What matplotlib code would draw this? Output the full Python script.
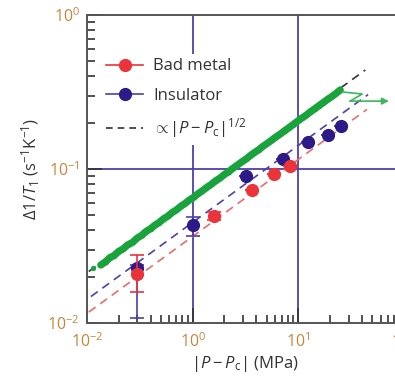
import numpy as np
import matplotlib
matplotlib.use('Agg')
import matplotlib.pyplot as plt
from matplotlib.lines import Line2D

plt.rcParams['font.family'] = ['Open Sans', 'DejaVu Sans']
plt.rcParams['mathtext.fontset'] = 'custom'
plt.rcParams['mathtext.rm'] = 'Open Sans'
plt.rcParams['mathtext.it'] = 'Open Sans:italic'

# Bad metal (red) and insulator (blue) points, pressure in MPa
metal_p = [0.3, 1.58, 3.68, 5.94, 8.41]
metal_r = [0.0208, 0.0495, 0.0731, 0.0929, 0.105]
metal_err_lo = [0.0049, 0.003, 0, 0, 0]
metal_err_hi = [0.0069, 0.003, 0, 0, 0]

ins_p = [0.3, 1.0, 3.23, 7.21, 12.4, 19.2, 25.5]
ins_r = [0.0228, 0.0433, 0.0901, 0.116, 0.150, 0.166, 0.190]
ins_err_lo = [0.012, 0.0066, 0, 0, 0, 0, 0]
ins_err_hi = [0.001, 0.0055, 0, 0, 0, 0, 0]

# dense green data set
green_p = [0.114, 0.135, 0.15, 0.165, 0.18, 0.2, 0.22, 0.24, 0.27, 0.3, 0.33,
           0.36, 0.4, 0.44, 0.48, 0.53, 0.58, 0.64, 0.7, 0.77, 0.85, 0.93,
           1.02, 1.12, 1.23, 1.35, 1.5, 1.65, 1.8, 2.0, 2.2, 2.4, 2.65, 2.9,
           3.2, 3.5, 3.85, 4.2, 4.6, 5.1, 5.6, 6.1, 6.7, 7.4, 8.1, 8.9, 9.8,
           10.8, 11.8, 13.0, 14.3, 15.7, 17.2, 18.9, 20.8, 22.8, 24.9]
green_r = [0.0226, 0.0238, 0.0250, 0.0266, 0.0274, 0.0292, 0.0303, 0.0320,
           0.0334, 0.0357, 0.0371, 0.0392, 0.0410, 0.0432, 0.0449, 0.0475,
           0.0493, 0.0522, 0.0542, 0.0572, 0.0598, 0.0629, 0.0654, 0.0690,
           0.0720, 0.0757, 0.0795, 0.0838, 0.0870, 0.0922, 0.0962, 0.101,
           0.106, 0.111, 0.116, 0.122, 0.128, 0.133, 0.140, 0.147, 0.154,
           0.161, 0.168, 0.177, 0.185, 0.194, 0.204, 0.214, 0.223, 0.235,
           0.246, 0.258, 0.270, 0.283, 0.296, 0.310, 0.326]

# prefactors of the |P - Pc|^(1/2) guides
amp_black, amp_blue, amp_red = 0.067, 0.045, 0.0365
guide_black = (0.104, 43.0)
guide_blue = (0.109, 45.7)
guide_red = (0.104, 44.6)

red = '#ea3439'
navy = '#2c1a88'
blue_line = '#4d40aa'
green = '#19a33c'
tick_col = '#c5863f'

fig = plt.figure(figsize=(3.95, 3.79), dpi=100)
ax = fig.add_axes([87/395, 56/379, 317/395, 308/379])
ax.set_xscale('log')
ax.set_yscale('log')
ax.set_xlim(0.1, 100)
ax.set_ylim(0.01, 1)

ax.axvline(1, color=blue_line, lw=1.3, zorder=1)
ax.axvline(10, color=blue_line, lw=1.3, zorder=1)
ax.axhline(0.1, color=blue_line, lw=1.3, zorder=1)

def guide(amp, rng, color):
    x = np.logspace(np.log10(rng[0]), np.log10(rng[1]), 50)
    ax.plot(x, amp * np.sqrt(x), color=color, lw=1.2, dashes=(5, 3.5), zorder=3)

guide(amp_red, guide_red, '#ee6a6a')
guide(amp_blue, guide_blue, blue_line)

ax.plot(green_p[1:], green_r[1:], color=green, lw=5.2, solid_capstyle='round', zorder=4)
ax.plot(green_p, green_r, 'o', color=green, ms=3.8, mew=0, zorder=4)
guide(amp_black, guide_black, '#333333')

# green arrow beyond the last point
ax.plot([26.6, 40.2, 30.9], [0.316, 0.307, 0.276], color='#3cb85a', lw=1.2, zorder=5)
ax.annotate('', xy=(72, 0.276), xytext=(30.9, 0.276),
            arrowprops=dict(arrowstyle='-|>', color='#3cb85a', lw=1.2,
                            mutation_scale=10, shrinkA=0, shrinkB=0), zorder=5)

ax.errorbar(ins_p, ins_r, yerr=[ins_err_lo, ins_err_hi], fmt='o', color=navy,
            ecolor=blue_line, ms=8.5, capsize=5, elinewidth=1.2, capthick=1.2, zorder=6)
ax.errorbar(metal_p, metal_r, yerr=[metal_err_lo, metal_err_hi], fmt='o', color=red,
            ecolor=red, ms=8.5, capsize=5, elinewidth=1.2, capthick=1.2, zorder=7)

for s in ax.spines.values():
    s.set_color('#555555')
    s.set_linewidth(1.4)
ax.spines['right'].set_visible(False)

ax.set_xticks([0.1, 1, 10, 100])
ax.set_xticklabels(['$10^{-2}$', '$10^{0}$', '$10^{1}$', '$10^{2}$'])
ax.set_yticks([0.01, 0.1, 1])
ax.set_yticklabels(['$10^{-2}$', '$10^{-1}$', '$10^{0}$'])
ax.tick_params(which='both', direction='in', colors='#333333', labelcolor=tick_col,
               labelsize=11.5, top=False, right=False)
ax.tick_params(which='major', length=11, width=1.2, pad=5)
ax.tick_params(which='minor', length=6, width=1.2)
ax.tick_params(axis='x', which='both', pad=7)

ax.set_xlabel(r'$|P-P_{\rm c}|$ (MPa)', fontsize=12, color='#333333', labelpad=2)
ax.set_ylabel(r'Δ1/$T_1$ (s$^{-1}$K$^{-1}$)', fontsize=12, color='#333333', labelpad=4)

handles = [
    Line2D([], [], color=red, marker='o', ms=8.5, lw=1.2),
    Line2D([], [], color=blue_line, marker='o', mfc=navy, mec=navy, ms=8.5, lw=1.2),
    Line2D([], [], color='#333333', lw=1.2, dashes=(4, 3)),
]
labels = ['Bad metal', 'Insulator', r'$\propto\!|P-P_{\rm c}|^{1/2}$']
leg = ax.legend(handles, labels, loc='upper left', bbox_to_anchor=(0.045, 0.875),
                fontsize=12, frameon=True, framealpha=1, edgecolor='none',
                handlelength=2.2, handletextpad=0.6, labelspacing=0.78,
                borderpad=0.3, borderaxespad=0)
leg.set_zorder(8)
for t in leg.get_texts():
    t.set_color('#333333')

fig.savefig('out.png', dpi=100)
